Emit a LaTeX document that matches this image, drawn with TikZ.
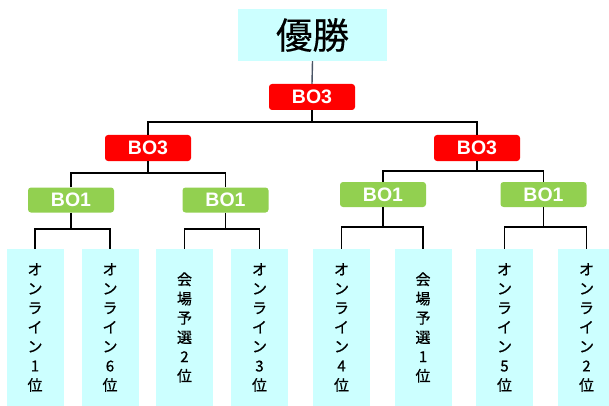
\documentclass[tikz,border=0pt]{standalone}
\usepackage{fontspec}
\setmainfont{Liberation Sans}
\newfontfamily\jp{Noto Sans CJK JP}[FakeBold=0.8]
\newfontfamily\jptitle{Noto Sans CJK JP}[FakeBold=0.3]
\definecolor{leafcyan}{HTML}{CCFFFF}
\definecolor{bored}{HTML}{FF0000}
\definecolor{bogreen}{HTML}{92D050}
\definecolor{topline}{HTML}{4A5566}
\begin{document}
\begin{tikzpicture}[x=1pt,y=-1pt,
  champ/.style={fill=leafcyan,minimum width=149pt,minimum height=52pt,inner sep=0pt,font=\jptitle\fontsize{36.5}{40}\selectfont},
  bothree/.style={fill=bored,rounded corners=3pt,minimum width=86pt,minimum height=26pt,inner sep=0pt,text=white,font=\bfseries\fontsize{19.5}{20}\selectfont},
  boone/.style={fill=bogreen,rounded corners=3pt,minimum width=86pt,minimum height=25pt,inner sep=0pt,text=white,font=\bfseries\fontsize{19.5}{20}\selectfont},
  leaf/.style={fill=leafcyan,minimum width=57pt,minimum height=157pt,inner sep=0pt,align=center,font=\jp\fontsize{15}{19.3}\selectfont},
  wire/.style={draw=black,line width=1.6pt},
  ]
\useasboundingbox (0,0) rectangle (609,406);
\clip (0,0) rectangle (609,406);
% nodes
\node[champ] (win) at (312.5,35) {優勝};
\node[bothree] (b3top) at (312,97) {BO3};
\node[bothree] (b3L) at (148,148) {BO3};
\node[bothree] (b3R) at (477,148) {BO3};
\node[boone] (b1a) at (71,200) {BO1};
\node[boone] (b1b) at (225.5,200) {BO1};
\node[boone] (b1c) at (383,194.5) {BO1};
\node[boone] (b1d) at (543.5,194.5) {BO1};
\node[leaf] (l1) at (35,327.5) {オ\\ン\\ラ\\イ\\ン\\1\\位};
\node[leaf] (l2) at (110,327.5) {オ\\ン\\ラ\\イ\\ン\\6\\位};
\node[leaf] (l3) at (184.5,327.5) {会\\場\\予\\選\\2\\位};
\node[leaf] (l4) at (259.5,327.5) {オ\\ン\\ラ\\イ\\ン\\3\\位};
\node[leaf] (l5) at (341.5,327.5) {オ\\ン\\ラ\\イ\\ン\\4\\位};
\node[leaf] (l6) at (423,327.5) {会\\場\\予\\選\\1\\位};
\node[leaf] (l7) at (504.5,327.5) {オ\\ン\\ラ\\イ\\ン\\5\\位};
\node[leaf] (l8) at (586.5,327.5) {オ\\ン\\ラ\\イ\\ン\\2\\位};
% junctions
\coordinate (j0) at (312,122);
\coordinate (jL) at (148,173);
\coordinate (jR) at (477,171);
\coordinate (ja) at (71,229);
\coordinate (jb) at (225.5,229);
\coordinate (jc) at (383,227);
\coordinate (jd) at (543.5,227);
% connectors
\draw[draw=topline,line width=1.4pt] (win.south) -- (b3top.north);
\draw[wire] (b3top.south) -- (j0);
\draw[wire] (b3L.north) |- (j0) -| (b3R.north);
\draw[wire] (b3L.south) -- (jL);
\draw[wire] (b1a.north) |- (jL) -| (b1b.north);
\draw[wire] (b3R.south) -- (jR);
\draw[wire] (b1c.north) |- (jR) -| (b1d.north);
\draw[wire] (b1a.south) -- (ja);
\draw[wire] (l1.north) |- (ja) -| (l2.north);
\draw[wire] (b1b.south) -- (jb);
\draw[wire] (l3.north) |- (jb) -| (l4.north);
\draw[wire] (b1c.south) -- (jc);
\draw[wire] (l5.north) |- (jc) -| (l6.north);
\draw[wire] (b1d.south) -- (jd);
\draw[wire] (l7.north) |- (jd) -| (l8.north);
\end{tikzpicture}
\end{document}
